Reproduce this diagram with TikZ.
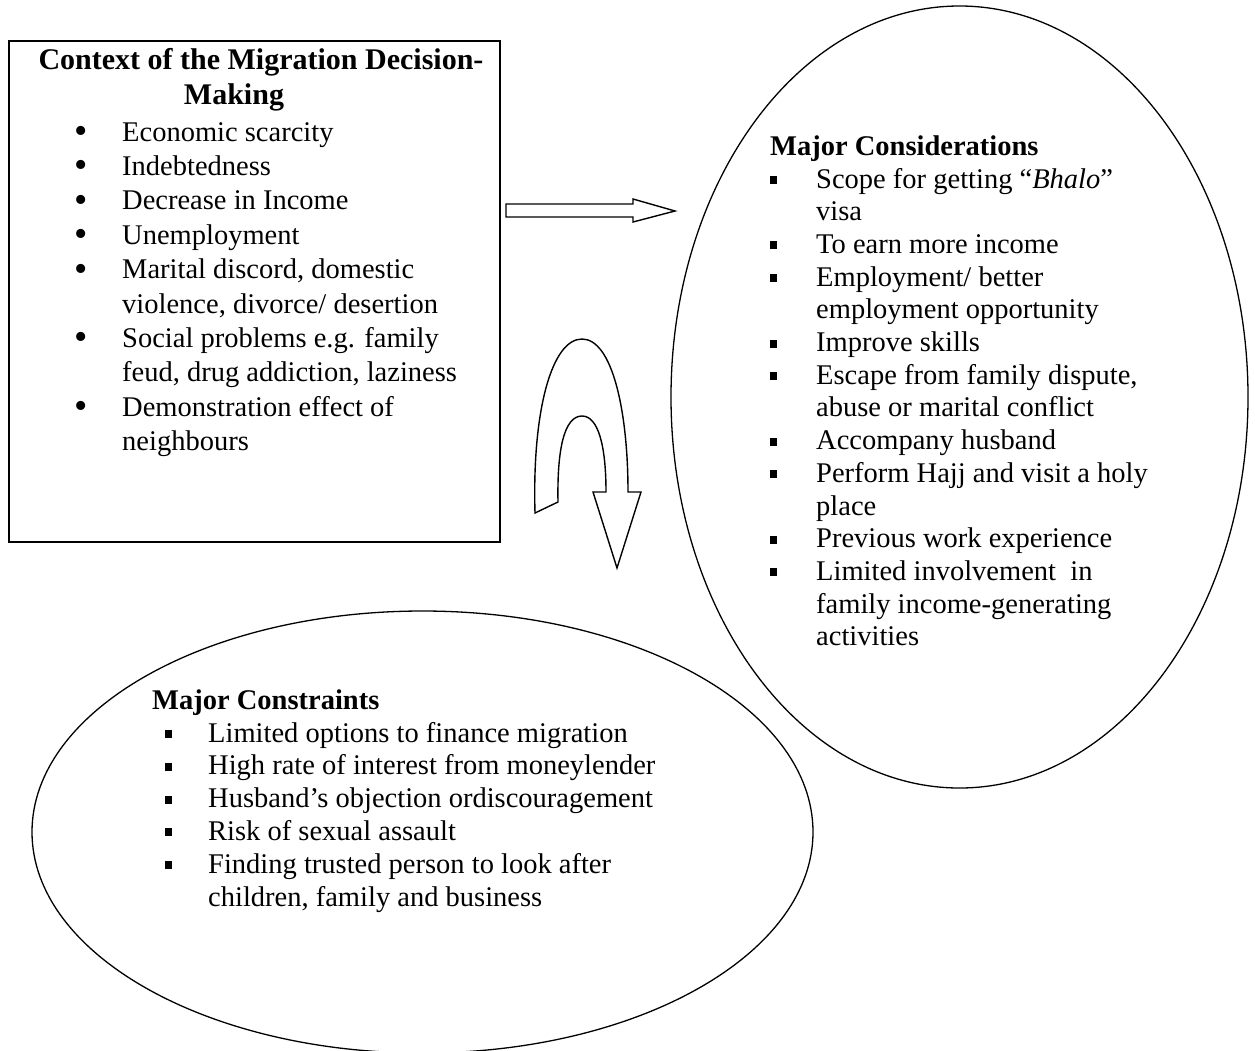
\documentclass[tikz,border=0pt]{standalone}
\usepackage{fontspec}
\setmainfont{Liberation Serif}
\usetikzlibrary{shapes.geometric}
\newcommand{\sqbul}{\rule[4pt]{7pt}{8pt}}
\newcommand{\rbul}{\smash{\raisebox{-2.5pt}{\fontsize{38}{38}\selectfont •}}}
\begin{document}
\begin{tikzpicture}[x=1pt,y=-1pt,
  txt/.style={anchor=base west, inner sep=0pt, font=\fontsize{28.5}{33}\selectfont},
  ttl/.style={inner sep=0pt, font=\fontsize{28.5}{33}\selectfont\bfseries},
  bigttl/.style={inner sep=0pt, font=\fontsize{30}{34}\selectfont\bfseries},
  dotb/.style={anchor=base, inner sep=0pt},
  sqb/.style={anchor=base west, inner sep=0pt},
  shp/.style={draw, line width=1.3pt},
  blk/.style={draw, line width=1.4pt, fill=white, line join=miter},
]
\useasboundingbox (0,0) rectangle (1255,1050);
\fill[white] (0,0) rectangle (1255,1050);

% ---------- context box ----------
\node[draw, line width=1.8pt, minimum width=491pt, minimum height=501pt, inner sep=0pt] (ctx) at (254.5,291.5) {};
\node[bigttl, anchor=base] (t1) at (261,69) {Context of the Migration Decision-};
\node[bigttl, anchor=base] (t2) at (234,104) {Making};
\foreach \y [count=\i] in {141,175.4,209.8,244.2,278.6,347.4,416.2}
  {\node[dotb] (cb\i) at (81,\y) {\rbul};}
\node[txt] (c1) at (122,141) {Economic scarcity};
\node[txt] (c2) at (122,175.4) {Indebtedness};
\node[txt] (c3) at (122,209.8) {Decrease in Income};
\node[txt] (c4) at (122,244.2) {Unemployment};
\node[txt] (c5) at (122,278.6) {Marital discord, domestic};
\node[txt] (c5b) at (122,313) {violence, divorce/ desertion};
\node[txt] (c6) at (122,347.4) {Social problems e.g. family};
\node[txt] (c6b) at (122,381.8) {feud, drug addiction, laziness};
\node[txt] (c7) at (122,416.2) {Demonstration effect of};
\node[txt] (c7b) at (122,450.6) {neighbours};

% ---------- considerations ellipse ----------
\node[ellipse, shp, minimum width=577pt, minimum height=782pt, inner sep=0pt] (cons) at (959.5,397) {};
\node[ttl, anchor=base west] (ct) at (770,155) {Major Considerations};
\foreach \y [count=\i] in {188,253.4,286.1,351.5,384.2,449.6,482.3,547.7,580.4}
  {\node[sqb] (rb\i) at (770,\y) {\sqbul};}
\node[txt] (r1) at (816,188) {Scope for getting “\textit{Bhalo}”};
\node[txt] (r1b) at (816,220.7) {visa};
\node[txt] (r2) at (816,253.4) {To earn more income};
\node[txt] (r3) at (816,286.1) {Employment/ better};
\node[txt] (r3b) at (816,318.8) {employment opportunity};
\node[txt] (r4) at (816,351.5) {Improve skills};
\node[txt] (r5) at (816,384.2) {Escape from family dispute,};
\node[txt] (r5b) at (816,416.9) {abuse or marital conflict};
\node[txt] (r6) at (816,449.6) {Accompany husband};
\node[txt] (r7) at (816,482.3) {Perform Hajj and visit a holy};
\node[txt] (r7b) at (816,515) {place};
\node[txt] (r8) at (816,547.7) {Previous work experience};
\node[txt] (r9) at (816,580.4) {Limited involvement\ \ in};
\node[txt] (r9b) at (816,613.1) {family income-generating};
\node[txt] (r9c) at (816,645.8) {activities};

% ---------- constraints ellipse ----------
\node[ellipse, shp, minimum width=781pt, minimum height=442pt, inner sep=0pt] (cstr) at (422.5,832) {};
\node[ttl, anchor=base west] (kt) at (152,709) {Major Constraints};
\foreach \y [count=\i] in {742,774.8,807.6,840.4,873.2}
  {\node[sqb] (bb\i) at (165,\y) {\sqbul};}
\node[txt] (b1) at (208,742) {Limited options to finance migration};
\node[txt] (b2) at (208,774.8) {High rate of interest from moneylender};
\node[txt] (b3) at (208,807.6) {Husband’s objection ordiscouragement};
\node[txt] (b4) at (208,840.4) {Risk of sexual assault};
\node[txt] (b5) at (208,873.2) {Finding trusted person to look after};
\node[txt] (b5b) at (208,906) {children, family and business};

% ---------- block arrow to the right ----------
\draw[blk] (506,204) -- (633,204) -- (633,199) -- (675,211) -- (633,222) -- (633,217) -- (506,217) -- cycle;

% ---------- U-turn arrow ----------
\draw[blk] (535,513) .. controls (532,410) and (552,339) .. (582,339)
  .. controls (612,339) and (628,410) .. (628,492)
  -- (641,492) -- (617,568) -- (593,492) -- (606,492)
  .. controls (606,445) and (598,416) .. (582,416)
  .. controls (564,416) and (557,450) .. (558,502) -- cycle;
\end{tikzpicture}
\end{document}
